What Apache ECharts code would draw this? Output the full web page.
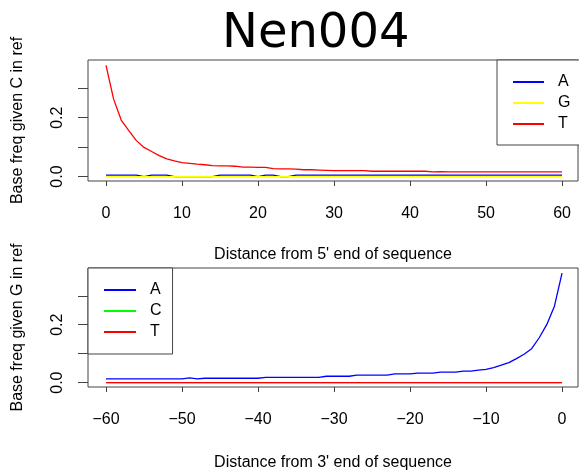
<!DOCTYPE html>
<html><head><meta charset="utf-8">
<script src="https://cdn.jsdelivr.net/npm/echarts@6/dist/echarts.min.js"></script>
<style>html,body{margin:0;padding:0;background:#fff}#c{width:579px;height:474px}</style>
</head><body><div id="c"></div>
<script>
const chartTitle = 'Nen004';
// Top panel: distance from 5' end
const pos5 = [0,1,2,3,4,5,6,7,8,9,10,11,12,13,14,15,16,17,18,19,20,21,22,23,24,25,26,27,28,29,30,31,32,33,34,35,36,37,38,39,40,41,42,43,44,45,46,47,48,49,50,51,52,53,54,55,56,57,58,59,60];
const topA = [0.005,0.005,0.005,0.005,0.005,0,0.005,0.005,0.005,0,0,0,0,0,0,0.005,0.005,0.005,0.005,0.005,0,0.005,0.005,0,0,0.005,0.005,0.005,0.005,0.005,0.005,0.005,0.005,0.005,0.005,0.005,0.005,0.005,0.005,0.005,0.005,0.005,0.005,0.005,0.005,0.005,0.005,0.005,0.005,0.005,0.005,0.005,0.005,0.005,0.005,0.005,0.005,0.005,0.005,0.005,0.005];
const topG = [0,0,0,0,0,0,0,0,0,0,0,0,0,0,0,0,0,0,0,0,0,0,0,0,0,0,0,0,0,0,0,0,0,0,0,0,0,0,0,0,0,0,0,0,0,0,0,0,0,0,0,0,0,0,0,0,0,0,0,0,0];
const topT = [0.378,0.263,0.192,0.156,0.122,0.099,0.085,0.071,0.060,0.053,0.047,0.045,0.042,0.040,0.037,0.036,0.036,0.035,0.032,0.032,0.031,0.031,0.027,0.026,0.026,0.025,0.023,0.023,0.022,0.021,0.020,0.020,0.020,0.020,0.020,0.018,0.018,0.018,0.018,0.018,0.018,0.018,0.018,0.016,0.017,0.016,0.016,0.016,0.016,0.016,0.016,0.016,0.016,0.016,0.016,0.016,0.016,0.016,0.016,0.016,0.016];
// Bottom panel: distance from 3' end
const pos3 = [-60,-59,-58,-57,-56,-55,-54,-53,-52,-51,-50,-49,-48,-47,-46,-45,-44,-43,-42,-41,-40,-39,-38,-37,-36,-35,-34,-33,-32,-31,-30,-29,-28,-27,-26,-25,-24,-23,-22,-21,-20,-19,-18,-17,-16,-15,-14,-13,-12,-11,-10,-9,-8,-7,-6,-5,-4,-3,-2,-1,0];
const botA = [0.013,0.013,0.013,0.013,0.013,0.013,0.013,0.013,0.013,0.013,0.013,0.016,0.013,0.015,0.015,0.015,0.015,0.015,0.015,0.015,0.015,0.018,0.018,0.018,0.018,0.018,0.018,0.018,0.018,0.022,0.022,0.022,0.022,0.026,0.026,0.026,0.026,0.026,0.030,0.030,0.030,0.033,0.033,0.033,0.036,0.036,0.036,0.040,0.040,0.043,0.046,0.052,0.060,0.069,0.083,0.098,0.117,0.155,0.201,0.264,0.378];
const botC = [0,0,0,0,0,0,0,0,0,0,0,0,0,0,0,0,0,0,0,0,0,0,0,0,0,0,0,0,0,0,0,0,0,0,0,0,0,0,0,0,0,0,0,0,0,0,0,0,0,0,0,0,0,0,0,0,0,0,0,0,0];
const botT = [0,0,0,0,0,0,0,0,0,0,0,0,0,0,0,0,0,0,0,0,0,0,0,0,0,0,0,0,0,0,0,0,0,0,0,0,0,0,0,0,0,0,0,0,0,0,0,0,0,0,0,0,0,0,0,0,0,0,0,0,0];
const xTicks5 = [0,10,20,30,40,50,60];
const xTicks3 = [-60,-50,-40,-30,-20,-10,0];
const yTicks = [0,0.1,0.2,0.3];
const yLabels = [0,0.2];
const xTitle5 = "Distance from 5' end of sequence";
const xTitle3 = "Distance from 3' end of sequence";
const yTitleTop = 'Base freq given C in ref';
const yTitleBot = 'Base freq given G in ref';

const FONT = 'Liberation Sans, Arial, sans-serif';
const AX = '#444';
const pair = (xs, ys) => xs.map((x, i) => [x, ys[i]]);

function xAxisOf(idx, ticks, name, min, max, gap) {
  return {
    type: 'value', gridIndex: idx, min: min, max: max, name: name,
    nameLocation: 'middle', nameGap: gap,
    nameTextStyle: {fontFamily: FONT, fontSize: 16, color: '#000'},
    axisLine: {show: false, onZero: false},
    axisTick: {show: true, customValues: ticks, length: 5, lineStyle: {color: AX}},
    axisLabel: {customValues: ticks, margin: 25, fontFamily: FONT, fontSize: 16, color: '#000',
      formatter: v => String(v).replace('-', '\u2212')},
    splitLine: {show: false}
  };
}
function yAxisOf(idx, name) {
  return {
    type: 'value', gridIndex: idx, min: -0.0152, max: 0.396, name: name,
    nameLocation: 'middle', nameGap: 62,
    nameTextStyle: {fontFamily: FONT, fontSize: 16, color: '#000'},
    axisLine: {show: false, onZero: false},
    axisTick: {show: true, customValues: yTicks, length: 10, lineStyle: {color: AX}},
    axisLabel: {customValues: yLabels, rotate: 90, margin: 22, fontFamily: FONT, fontSize: 16, color: '#000',
      formatter: v => v.toFixed(1)},
    splitLine: {show: false}
  };
}
function line(name, xi, data, color) {
  return {type: 'line', name: name, xAxisIndex: xi, yAxisIndex: xi, data: data,
    symbol: 'none', animation: false, lineStyle: {color: color, width: 1.3}, itemStyle: {color: color}};
}
const legendCommon = {
  orient: 'vertical', selectedMode: false, itemWidth: 31, itemHeight: 14, itemGap: 5,
  borderColor: AX, borderWidth: 1, backgroundColor: '#fff',
  itemStyle: {opacity: 0},
  textStyle: {fontFamily: FONT, fontSize: 16, color: '#000', padding: [0, 0, 0, 9]}
};
const chart = echarts.init(document.getElementById('c'), null, {renderer: 'canvas'});
chart.setOption({
  animation: false,
  backgroundColor: '#fff',
  title: {text: chartTitle, left: 222, top: 11, padding: 0,
    textStyle: {fontFamily: 'DejaVu Sans', fontSize: 48, fontWeight: 'normal', color: '#000'}},
  grid: [
    {left: 88, top: 60, width: 490, height: 121, show: true, borderColor: AX, borderWidth: 1, backgroundColor: 'transparent'},
    {left: 88, top: 268, width: 490, height: 119, show: true, borderColor: AX, borderWidth: 1, backgroundColor: 'transparent'}
  ],
  xAxis: [xAxisOf(0, xTicks5, xTitle5, -2.37, 62.1, 66), xAxisOf(1, xTicks3, xTitle3, -62.37, 2.1, 68)],
  yAxis: [yAxisOf(0, yTitleTop), yAxisOf(1, yTitleBot)],
  legend: [
    Object.assign({}, legendCommon, {data: ['A', 'G', 'T'], left: 497, top: 60, padding: [14, 10, 13, 15]}),
    Object.assign({}, legendCommon, {data: ['A', 'C', 'T'], left: 88, top: 268, itemWidth: 32, padding: [14, 11, 14, 15]})
  ],
  series: [
    line('A', 0, pair(pos5, topA), '#0000ff'),
    line('G', 0, pair(pos5, topG), '#ffff00'),
    line('T', 0, pair(pos5, topT), '#ff0000'),
    line('A', 1, pair(pos3, botA), '#0000ff'),
    line('C', 1, pair(pos3, botC), '#00ff00'),
    line('T', 1, pair(pos3, botT), '#ff0000')
  ]
});
</script></body></html>
